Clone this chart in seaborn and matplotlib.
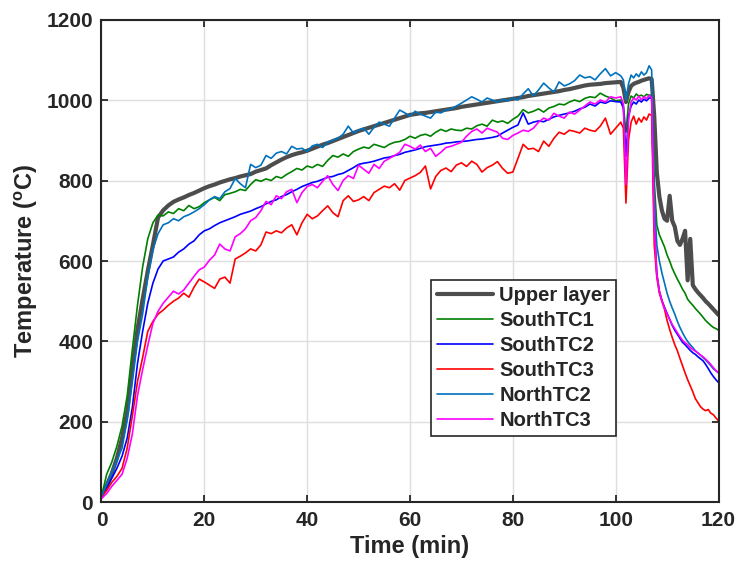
import numpy as np
import pandas as pd
import seaborn as sns
import matplotlib
matplotlib.use('Agg')
import matplotlib.pyplot as plt

# ---------------------------------------------data---------------------------------------------
# time axis: every minute to 100 min, then every half minute to 120 min
time = np.concatenate([np.arange(0, 101), np.arange(101, 120.5, 0.5)])

upper_layer = [
    15, 42, 72, 110, 160, 225, 335, 430, 505, 575,
    640, 708, 726, 738, 747, 753, 758, 764, 769, 775,
    781, 786, 790, 795, 799, 803, 806, 810, 813, 816,
    822, 826, 830, 838, 845, 852, 858, 863, 867, 870,
    874, 879, 884, 889, 893, 898, 903, 908, 913, 918,
    923, 927, 931, 935, 939, 943, 947, 951, 955, 959,
    963, 965, 967, 968, 970, 972, 974, 976, 978, 980,
    983, 985, 987, 989, 991, 993, 995, 997, 999, 1001,
    1003, 1005, 1007, 1010, 1012, 1014, 1016, 1018, 1020, 1022,
    1025, 1027, 1030, 1033, 1036, 1038, 1039, 1040, 1042, 1043, 1044,
    # 101 .. 120 (half minutes)
    1045, 1030, 995, 1020, 1035, 1040, 1043, 1045, 1048, 1050, 1052, 1054, 1052,
    960, 820, 760, 725, 705, 700, 762, 700, 685, 650, 640, 655, 675,
    552, 655, 540, 530, 522, 515, 508, 500, 494, 487, 480, 473, 466]

south_tc1 = [
    15, 70, 100, 140, 190, 265, 380, 490, 585, 655,
    695, 714, 712, 722, 718, 730, 725, 738, 730, 735,
    745, 752, 758, 750, 765, 768, 772, 778, 775, 790,
    802, 798, 804, 800, 810, 806, 815, 822, 830, 826,
    836, 832, 840, 835, 850, 862, 858, 866, 860, 872,
    878, 883, 880, 890, 886, 882, 890, 895, 897, 902,
    910, 905, 912, 915, 910, 920, 927, 922, 928, 925,
    924, 930, 928, 936, 940, 935, 950, 945, 948, 942,
    952, 960, 976, 968, 972, 978, 970, 980, 984, 990,
    988, 995, 1000, 996, 1004, 1008, 1006, 1017, 1010, 1005, 998,
    1000, 985, 920, 990, 1010, 1005, 1015, 1010, 1012, 1008, 1014, 1012, 1012,
    800, 690, 665, 650, 635, 615, 600, 582, 568, 555, 543, 530, 520,
    505, 497, 490, 482, 475, 468, 460, 452, 446, 440, 435, 432, 428]

south_tc2 = [
    15, 35, 60, 85, 115, 160, 236, 345, 425, 495,
    545, 580, 600, 605, 610, 622, 630, 642, 650, 665,
    675, 680, 688, 695, 700, 705, 710, 716, 720, 724,
    730, 735, 742, 748, 752, 760, 765, 772, 778, 785,
    790, 795, 798, 803, 808, 810, 815, 818, 825, 832,
    840, 843, 845, 848, 852, 856, 858, 862, 865, 870,
    873, 876, 880, 884, 886, 888, 890, 893, 894, 896,
    897, 898, 900, 902, 903, 905, 907, 910, 918, 925,
    932, 938, 968, 940, 945, 948, 946, 952, 958, 962,
    965, 968, 972, 978, 982, 990, 985, 995, 992, 998, 996,
    995, 980, 860, 960, 985, 995, 990, 1000, 995, 1002, 998, 1005, 1005,
    700, 570, 525, 502, 485, 470, 455, 440, 428, 418, 408, 398, 392,
    385, 378, 372, 368, 362, 357, 352, 343, 333, 322, 313, 305, 298]

south_tc3 = [
    15, 30, 50, 65, 85, 135, 215, 300, 360, 425,
    450, 468, 478, 490, 500, 508, 520, 510, 535, 555,
    548, 540, 532, 555, 560, 545, 605, 612, 620, 630,
    625, 640, 672, 668, 675, 670, 682, 690, 665, 695,
    716, 705, 712, 725, 737, 720, 710, 750, 762, 748,
    752, 760, 750, 770, 778, 786, 782, 792, 776, 800,
    806, 812, 820, 836, 779, 810, 825, 831, 822, 838,
    844, 835, 848, 840, 821, 832, 838, 847, 830, 818,
    821, 855, 890, 878, 880, 872, 898, 885, 905, 920,
    915, 925, 922, 918, 930, 925, 922, 935, 955, 915, 930,
    945, 930, 744, 900, 945, 960, 940, 955, 945, 958, 950, 965, 962,
    640, 560, 520, 500, 480, 452, 430, 410, 392, 377, 358, 340, 322,
    305, 290, 275, 258, 248, 238, 232, 228, 231, 222, 218, 210, 203]

north_tc2 = [
    15, 45, 75, 105, 135, 205, 300, 400, 468, 560,
    628, 668, 690, 695, 705, 700, 710, 715, 722, 730,
    740, 752, 760, 755, 772, 780, 805, 792, 782, 840,
    832, 838, 862, 855, 868, 872, 866, 885, 878, 880,
    872, 886, 890, 882, 895, 900, 905, 915, 935, 918,
    925, 930, 915, 932, 945, 940, 935, 955, 975, 968,
    960, 972, 965, 960, 955, 970, 968, 975, 978, 985,
    992, 1000, 1008, 1002, 995, 1005, 1000, 995, 1002, 998,
    1005, 1000, 1015, 1028, 1010, 1025, 1042, 1030, 1020, 1045,
    1035, 1040, 1048, 1062, 1055, 1058, 1050, 1065, 1078, 1060, 1068,
    1060, 1050, 1000, 1040, 1062, 1055, 1065, 1058, 1070, 1062, 1068, 1085, 1075,
    760, 640, 600, 570, 545, 520, 500, 483, 468, 450, 435, 422, 410,
    400, 392, 385, 377, 371, 366, 360, 354, 347, 340, 332, 327, 322]

north_tc3 = [
    10, 22, 40, 55, 70, 110, 170, 265, 330, 390,
    445, 475, 495, 510, 525, 518, 528, 545, 562, 578,
    585, 602, 615, 642, 630, 625, 660, 668, 680, 700,
    708, 725, 748, 740, 762, 755, 772, 778, 745, 770,
    785, 790, 782, 798, 812, 790, 775, 800, 812, 805,
    838, 828, 818, 840, 830, 848, 855, 862, 870, 890,
    885, 878, 888, 872, 880, 860, 870, 882, 885, 890,
    895, 910, 922, 928, 918, 930, 925, 920, 905, 902,
    912, 918, 925, 922, 930, 945, 955, 950, 967, 960,
    955, 970, 965, 975, 985, 995, 990, 1000, 995, 1008, 1005,
    1008, 990, 790, 950, 995, 1005, 1000, 1010, 1000, 1008, 1003, 1012, 1005,
    690, 565, 525, 500, 482, 468, 455, 442, 432, 422, 412, 403, 397,
    392, 385, 380, 376, 372, 366, 362, 356, 350, 343, 335, 328, 322]

names = ['Upper layer', 'SouthTC1', 'SouthTC2', 'SouthTC3', 'NorthTC2', 'NorthTC3']
colors = ['#4d4d4d', '#008000', '#0000ff', '#ff0000', '#0072bd', '#ff00ff']
widths = [3.0, 1.2, 1.2, 1.2, 1.2, 1.2]

df = pd.DataFrame({'Time': time, 'Upper layer': upper_layer, 'SouthTC1': south_tc1,
                   'SouthTC2': south_tc2, 'SouthTC3': south_tc3,
                   'NorthTC2': north_tc2, 'NorthTC3': north_tc3})

# ---------------------------------------------plot---------------------------------------------
sns.set_style('ticks')
plt.rcParams['font.family'] = ['Liberation Sans', 'DejaVu Sans']
plt.rcParams['font.weight'] = 'bold'
plt.rcParams['axes.labelweight'] = 'bold'
plt.rcParams['mathtext.fontset'] = 'custom'
plt.rcParams['mathtext.rm'] = 'Liberation Sans:bold'
plt.rcParams['mathtext.bf'] = 'Liberation Sans:bold'
plt.rcParams['mathtext.it'] = 'Liberation Sans:bold'

dark = '#262626'
fig = plt.figure(figsize=(7.37, 5.69), dpi=100)
ax = fig.add_axes([0.1377, 0.1169, 0.8372, 0.8488])

for name, c, lw in zip(names, colors, widths):
    sns.lineplot(data=df, x='Time', y=name, color=c, linewidth=lw, label=name,
                 estimator=None, sort=False, ax=ax)

ax.set_xlim(0, 120)
ax.set_ylim(0, 1200)
ax.set_xticks(range(0, 121, 20))
ax.set_yticks(range(0, 1201, 200))
ax.grid(True, color='#dedede', linewidth=1.0)
ax.set_axisbelow(True)
ax.tick_params(direction='in', length=5, width=1.3, top=True, right=True,
               labelsize=15, colors=dark, pad=6)
for s in ax.spines.values():
    s.set_linewidth(1.5)
    s.set_color(dark)

ax.set_xlabel('Time (min)', fontsize=17, color=dark, labelpad=4)
ax.set_ylabel('Temperature ($^{\\rm o}$C)', fontsize=17, color=dark, labelpad=5)

leg = ax.legend(loc='upper left', bbox_to_anchor=(0.534, 0.4607), borderaxespad=0,
                fontsize=14.5, handlelength=2.8, handletextpad=0.3, labelspacing=0.3,
                borderpad=0.3, fancybox=False, framealpha=1, edgecolor=dark)
leg.get_frame().set_linewidth(1.2)

plt.savefig('out.png', dpi=100)
